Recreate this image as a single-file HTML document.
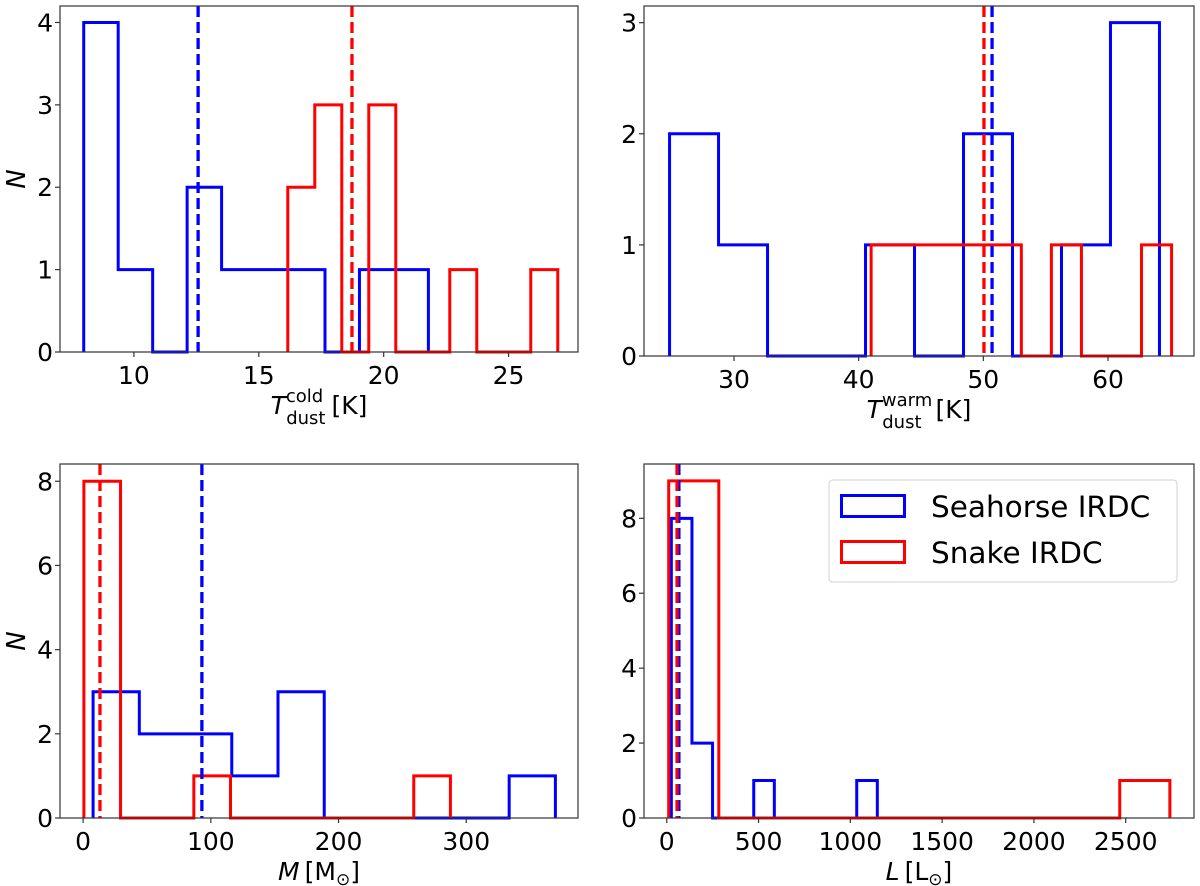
<!DOCTYPE html>
<html><head><meta charset="utf-8"><style>
body{margin:0;background:#fff}
svg{display:block;font-family:"DejaVu Sans","Liberation Sans",sans-serif}
</style></head><body>
<svg id="fig" width="1200" height="886" viewBox="0 0 1200 886" xmlns="http://www.w3.org/2000/svg"></svg>
<script>
// Panel 1: T_dust cold
const p1BlueEdges0 = 7.99, p1BlueWidth = 1.38;
const p1BlueCounts = [4,1,0,2,1,1,1,0,1,1];
const p1RedEdges0 = 16.16, p1RedWidth = 1.081;
const p1RedCounts = [2,3,0,3,0,0,1,0,0,1];
const p1Means = [12.57, 18.73];
const p1XTicks = [10,15,20,25];
const p1YTicks = [0,1,2,3,4];
// Panel 2: T_dust warm
const p2BlueEdges0 = 24.83, p2BlueWidth = 3.93;
const p2BlueCounts = [2,1,0,0,1,0,2,0,1,3];
const p2RedEdges0 = 41.0, p2RedWidth = 2.41;
const p2RedCounts = [1,1,1,1,1,0,1,0,0,1];
const p2Means = [50.7, 50.05];
const p2XTicks = [30,40,50,60];
const p2YTicks = [0,1,2,3];
// Panel 3: Mass
const p3BlueEdges0 = 7.8, p3BlueWidth = 36.2;
const p3BlueCounts = [3,2,2,1,3,0,0,0,0,1];
const p3RedEdges0 = 0.6, p3RedWidth = 28.7;
const p3RedCounts = [8,0,0,1,0,0,0,0,0,1];
const p3Means = [93, 13.2];
const p3XTicks = [0,100,200,300];
const p3YTicks = [0,2,4,6,8];
// Panel 4: Luminosity
const p4BlueEdges0 = 25, p4BlueWidth = 112.2;
const p4BlueCounts = [8,2,0,0,1,0,0,0,0,1];
const p4RedEdges0 = 10.5, p4RedWidth = 273;
const p4RedCounts = [9,0,0,0,0,0,0,0,0,1];
const p4Means = [66, 56];
const p4XTicks = [0,500,1000,1500,2000,2500];
const p4YTicks = [0,2,4,6,8];

const NS = "http://www.w3.org/2000/svg";
const svg = document.getElementById('fig');
function mk(tag, attrs, parent){const e=document.createElementNS(NS,tag);for(const k in attrs)e.setAttribute(k,attrs[k]);(parent||svg).appendChild(e);return e;}

function panel(name, box, xr, yr, blue, red, means, xt, yt, ylab, xlabFn){
  const g = mk('g',{});
  
  
  const sx = v => box.l + (v - xr[0])/(xr[1]-xr[0])*(box.r-box.l);
  const sy = v => box.b - (v - yr[0])/(yr[1]-yr[0])*(box.b-box.t);
  function step(e0,w,counts,color,nm){
    let d = 'M'+sx(e0)+','+sy(0);
    counts.forEach((c,i)=>{ d += ' L'+sx(e0+i*w)+','+sy(c)+' L'+sx(e0+(i+1)*w)+','+sy(c); });
    d += ' L'+sx(e0+counts.length*w)+','+sy(0);
    const p = mk('path',{d:d,fill:'none',stroke:color,'stroke-width':3,'stroke-linejoin':'miter'},g);
    
    
  }
  step(blue[0],blue[1],blue[2],'#0000ff','seahorse-histogram');
  step(red[0],red[1],red[2],'#ff0000','snake-histogram');
  const cols=['#0000ff','#ff0000'];
  means.forEach((m,i)=>{
    const l = mk('line',{x1:sx(m),x2:sx(m),y1:box.t,y2:box.b,stroke:cols[i],'stroke-width':3.3,'stroke-dasharray':'11,5'},g);
    
    
  });
  const fr = mk('rect',{x:box.l,y:box.t,width:box.r-box.l,height:box.b-box.t,fill:'none',stroke:'#333','stroke-width':1.2},g);
  
  
  xt.forEach(v=>{
    mk('line',{x1:sx(v),x2:sx(v),y1:box.b,y2:box.b+5,stroke:'#333','stroke-width':1.2},g);
    const t = mk('text',{x:sx(v),y:box.b+32,'text-anchor':'middle','font-size':25,fill:'#000'},g);
    t.textContent = v;
    
    
  });
  yt.forEach(v=>{
    mk('line',{x1:box.l-5,x2:box.l,y1:sy(v),y2:sy(v),stroke:'#333','stroke-width':1.2},g);
    const t = mk('text',{x:box.l-7,y:sy(v)+9,'text-anchor':'end','font-size':25,fill:'#000'},g);
    t.textContent = v;
    
    
  });
  if(ylab){
    const cy=(box.t+box.b)/2;
    const t = mk('text',{x:0,y:0,transform:'translate(25,'+cy+') rotate(-90)','text-anchor':'middle','font-size':26,'font-style':'italic',fill:'#000'},g);
    t.textContent='N';
    
    
  }
  xlabFn(g,(box.l+box.r)/2,box.b+62);
}
function tlabel(sup){
  return function(g,cx,by){
    const t = mk('text',{x:cx,y:by,'text-anchor':'middle','font-size':25,fill:'#000'},g);
    
    
    t.innerHTML = '<tspan font-style="italic">T</tspan><tspan font-size="18" dy="-12">'+sup+'</tspan><tspan font-size="18" dx="-'+(sup=='cold'?37:50)+'" dy="22">dust</tspan><tspan dy="-10" dx="'+(sup=='cold'?6:14)+'">[K]</tspan>';
  };
}
function mlabel(sym,unit){
  return function(g,cx,by){
    const t = mk('text',{x:cx,y:by,'text-anchor':'middle','font-size':25,fill:'#000'},g);
    
    
    t.innerHTML = '<tspan font-style="italic">'+sym+'</tspan><tspan dx="5">['+unit+'</tspan><tspan font-size="17" dy="5">⊙</tspan><tspan dy="-5">]</tspan>';
  };
}
panel('panel-cold-dust',{l:60,r:578,t:6,b:352},[7.04,27.78],[0,4.2],[p1BlueEdges0,p1BlueWidth,p1BlueCounts],[p1RedEdges0,p1RedWidth,p1RedCounts],p1Means,p1XTicks,p1YTicks,true,tlabel('cold'));
panel('panel-warm-dust',{l:644,r:1194,t:6,b:356},[22.78,66.9],[0,3.15],[p2BlueEdges0,p2BlueWidth,p2BlueCounts],[p2RedEdges0,p2RedWidth,p2RedCounts],p2Means,p2XTicks,p2YTicks,false,tlabel('warm'));
panel('panel-mass',{l:60,r:578,t:464,b:818},[-18.1,387.5],[0,8.41],[p3BlueEdges0,p3BlueWidth,p3BlueCounts],[p3RedEdges0,p3RedWidth,p3RedCounts],p3Means,p3XTicks,p3YTicks,true,mlabel('M','M'));
panel('panel-luminosity',{l:644,r:1194,t:464,b:818},[-124,2872],[0,9.45],[p4BlueEdges0,p4BlueWidth,p4BlueCounts],[p4RedEdges0,p4RedWidth,p4RedCounts],p4Means,p4XTicks,p4YTicks,false,mlabel('L','L'));
</script>
<svg style="position:absolute;left:0;top:0" width="1200" height="886">
<g font-family="DejaVu Sans, Liberation Sans, sans-serif">
<rect x="829" y="480" width="348" height="102" rx="4" fill="#fff" fill-opacity="0.8" stroke="#d9d9d9" stroke-width="1.2"/>
<rect x="841.5" y="495.5" width="63" height="21" fill="none" stroke="#0000ff" stroke-width="3"/>
<text x="931" y="517" font-size="29.5" fill="#000">Seahorse IRDC</text>
<rect x="841.5" y="541.5" width="63" height="21" fill="none" stroke="#ff0000" stroke-width="3"/>
<text x="931" y="563" font-size="29.5" fill="#000">Snake IRDC</text>
</g></svg>
</body></html>
